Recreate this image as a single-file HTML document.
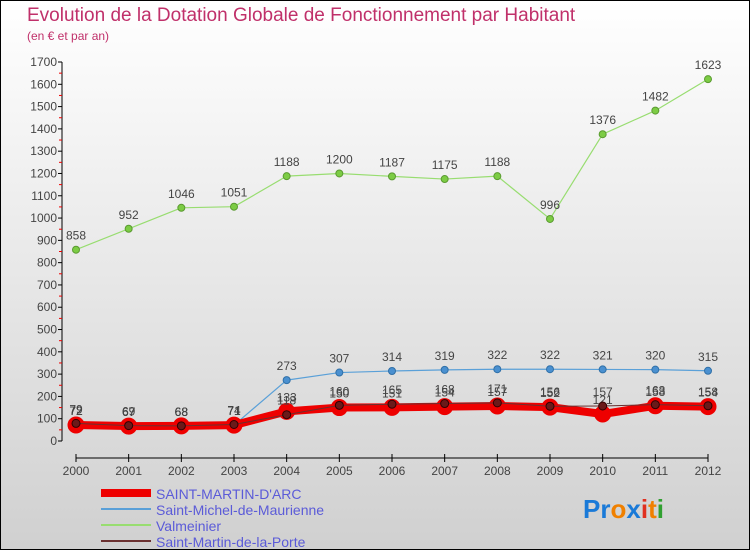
<!DOCTYPE html>
<html><head><meta charset="utf-8"><style>
body{margin:0}
#c{position:relative;width:748px;height:548px;border:1px solid #000;background:linear-gradient(#fff,#d0d0d0);font-family:"Liberation Sans",sans-serif;overflow:hidden}
</style></head><body>
<div id="c">
<svg id="s" width="748" height="548" style="position:absolute;left:0;top:0">
<text x="26" y="20" font-size="19" fill="#c0306a">Evolution de la Dotation Globale de Fonctionnement par Habitant</text>
<text x="26" y="39" font-size="12" fill="#c0306a">(en € et par an)</text>
<g id="g"></g>
<g>
<line x1="100" y1="492" x2="150" y2="492" stroke="#e00" stroke-width="8"/>
<text x="155" y="498" font-size="14" fill="#5b5bd8">SAINT-MARTIN-D'ARC</text>
<line x1="100" y1="508" x2="150" y2="508" stroke="#5aa0d8" stroke-width="2"/>
<text x="155" y="514" font-size="14" fill="#5b5bd8">Saint-Michel-de-Maurienne</text>
<line x1="100" y1="524" x2="150" y2="524" stroke="#98dd70" stroke-width="2"/>
<text x="155" y="530" font-size="14" fill="#5b5bd8">Valmeinier</text>
<line x1="100" y1="540" x2="150" y2="540" stroke="#6a3030" stroke-width="2"/>
<text x="155" y="546" font-size="14" fill="#5b5bd8">Saint-Martin-de-la-Porte</text>
</g>
<text x="582" y="517" font-size="26" font-weight="bold"><tspan fill="#1a7ad8">Pr</tspan><tspan fill="#f08000">o</tspan><tspan fill="#1a7ad8">x</tspan><tspan fill="#e03020">i</tspan><tspan fill="#f08000">t</tspan><tspan fill="#30a030">i</tspan></text>
</svg>
</div>
<script>
const years=[2000,2001,2002,2003,2004,2005,2006,2007,2008,2009,2010,2011,2012];
const yTicks=[0,100,200,300,400,500,600,700,800,900,1000,1100,1200,1300,1400,1500,1600,1700];
const valmeinier=[858,952,1046,1051,1188,1200,1187,1175,1188,996,1376,1482,1623];
const stMichel=[72,67,68,71,273,307,314,319,322,322,321,320,315];
const stMartinArc=[72,67,68,71,133,150,151,154,157,152,121,158,154];
const stMartinPorte=[79,69,68,74,118,160,165,168,171,156,157,163,158];
const NS="http://www.w3.org/2000/svg";
const g=document.getElementById('g');
const X=i=>75+i*(707-75)/(years.length-1);
const Y=v=>440-v*(440-61)/1700;
function el(t,a,p){const e=document.createElementNS(NS,t);for(const k in a)e.setAttribute(k,a[k]);(p||g).appendChild(e);return e;}
el('line',{x1:61,y1:Y(0),x2:61,y2:Y(1700),stroke:'#000'});
el('line',{x1:75,y1:457,x2:707,y2:457,stroke:'#000'});
yTicks.forEach((v,i)=>{
  el('line',{x1:57,y1:Y(v),x2:61,y2:Y(v),stroke:'#000'});
  if(i<yTicks.length-1)el('line',{x1:58,y1:Y(v+50),x2:61,y2:Y(v+50),stroke:'#e00'});
  const t=el('text',{x:56,y:Y(v)+4,'font-size':12,fill:'#444','text-anchor':'end'});t.textContent=v;
  
  
});
years.forEach((yr,i)=>{
  el('line',{x1:X(i),y1:453,x2:X(i),y2:461,stroke:'#000'});
  const t=el('text',{x:X(i),y:474,'font-size':12,fill:'#444','text-anchor':'middle'});t.textContent=yr;
  
  
});
function series(data,name,color,w,r,dot,stroke){
  const grp=el('g',{});
  
  
  el('polyline',{points:data.map((v,i)=>X(i)+','+Y(v)).join(' '),fill:'none',stroke:color,'stroke-width':w,'stroke-linejoin':'round'},grp);
  data.forEach((v,i)=>{
    const c=el('circle',{cx:X(i),cy:Y(v),r:r,fill:dot,stroke:stroke,'stroke-width':1},grp);
    
    
    const t=el('text',{x:X(i),y:Y(v)-10,'font-size':12,fill:'#444','text-anchor':'middle'},grp);t.textContent=v;
  });
}
series(valmeinier,'series-valmeinier','#98dd70',1.2,3.5,'#7ccc44','#5a9a30');
series(stMichel,'series-saint-michel','#5aa0d8',1.2,3.5,'#4a90d0','#3070a8');
series(stMartinArc,'series-saint-martin-d-arc','#e00',8,8,'#e00','#e00');
series(stMartinPorte,'series-saint-martin-de-la-porte','#6a3030',1,4,'#6a1a1a','#300');
</script>
</body></html>
